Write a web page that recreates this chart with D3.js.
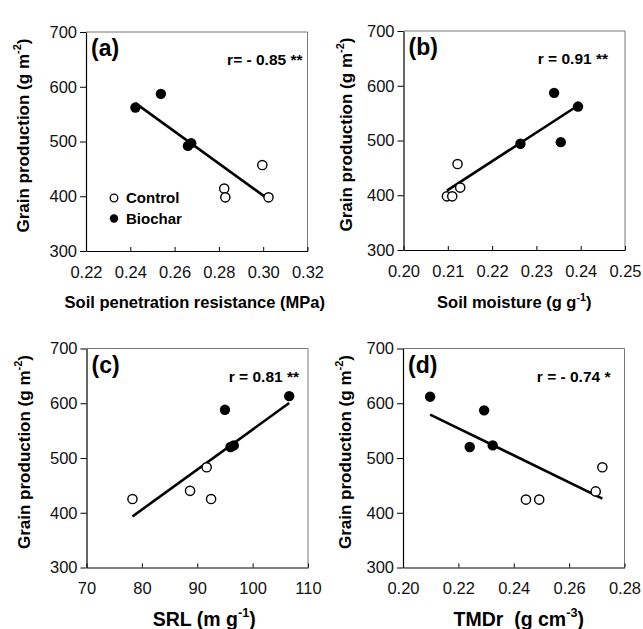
<!DOCTYPE html>
<html>
<head>
<meta charset="utf-8">
<script src="https://cdn.jsdelivr.net/npm/d3@7"></script>
<style>
  html, body { margin: 0; padding: 0; background: #fff; }
  svg { display: block; font-family: "Liberation Sans", Arial, sans-serif; }
</style>
</head>
<body>
<svg id="chart" width="643" height="629"></svg>
<script>
// ---------------- data ----------------
const panelLabels = ["(a)", "(b)", "(c)", "(d)"];
const rLabels = ["r= - 0.85 **", "r = 0.91 **", "r = 0.81 **", "r = - 0.74 *"];
const yTicks = [300, 400, 500, 600, 700];

// (a) soil penetration resistance (MPa)
const aXTicks = [0.22, 0.24, 0.26, 0.28, 0.30, 0.32];
const aControlX = [0.2996, 0.2824, 0.2829, 0.3024];
const aControlY = [457, 414, 398, 398];
const aBiocharX = [0.2423, 0.2538, 0.2660, 0.2675];
const aBiocharY = [562, 587, 492, 497];

// (b) soil moisture (g g-1)
const bXTicks = [0.20, 0.21, 0.22, 0.23, 0.24, 0.25];
const bControlX = [0.2122, 0.2128, 0.2098, 0.2110];
const bControlY = [457, 414, 398, 398];
const bBiocharX = [0.2340, 0.2394, 0.2264, 0.2355];
const bBiocharY = [587, 562, 494, 497];

// (c) SRL (m g-1)
const cXTicks = [70, 80, 90, 100, 110];
const cControlX = [78.3, 88.7, 91.7, 92.5];
const cControlY = [425, 440, 483, 425];
const cBiocharX = [95.0, 96.0, 96.6, 106.6];
const cBiocharY = [588, 520, 523, 613];

// (d) TMDr (g cm-3)
const dXTicks = [0.20, 0.22, 0.24, 0.26, 0.28];
const dControlX = [0.2444, 0.2492, 0.2696, 0.2720];
const dControlY = [424, 424, 439, 483];
const dBiocharX = [0.2098, 0.2293, 0.2241, 0.2324];
const dBiocharY = [612, 587, 520, 523];

const legendLabels = ["Control", "Biochar"];

// ---------------- layout ----------------
const svg = d3.select("#chart");
const W = 221.5, H = 219;

const panels = [
  { left: 86, top: 32, xTicks: aXTicks, fmt: ".2f", cx: aControlX, cy: aControlY, bx: aBiocharX, by: aBiocharY,
    xTitle: [["Soil penetration resistance (MPa)"]], xTitleSize: 16.5, xTitleY: 308, xTitleDx: -2, yTitleOff: 57, rRight: 5, legend: true },
  { left: 403.5, top: 31, xTicks: bXTicks, fmt: ".2f", cx: bControlX, cy: bControlY, bx: bBiocharX, by: bBiocharY,
    xTitle: [["Soil moisture (g g"], ["-1", true], [")"]], xTitleSize: 16.5, xTitleY: 308, xTitleDx: 0, yTitleOff: 52, rRight: 17 },
  { left: 86.5, top: 348.5, xTicks: cXTicks, fmt: "d", cx: cControlX, cy: cControlY, bx: cBiocharX, by: cBiocharY,
    xTitle: [["SRL (m g"], ["-1", true], [")"]], xTitleSize: 19.5, xTitleY: 626, xTitleDx: 7, yTitleOff: 57, rRight: 9 },
  { left: 403, top: 348.5, xTicks: dXTicks, fmt: ".2f", cx: dControlX, cy: dControlY, bx: dBiocharX, by: dBiocharY,
    xTitle: [["TMDr  (g cm"], ["-3", true], [")"]], xTitleSize: 19.5, xTitleY: 626, xTitleDx: 5, yTitleOff: 52, rRight: 14 }
];

function richText(sel, parts, size) {
  parts.forEach((p, i) => {
    const t = sel.append("tspan").text(p[0]).attr("xml:space", "preserve").style("white-space", "pre");
    if (p[1]) {
      t.attr("font-size", size * 0.65).attr("dy", -size * 0.45);
    } else if (i > 0 && parts[i - 1][1]) {
      t.attr("dy", size * 0.45);
    }
  });
}

function linreg(xs, ys) {
  const n = xs.length;
  const mx = d3.mean(xs), my = d3.mean(ys);
  let sxy = 0, sxx = 0;
  for (let i = 0; i < n; i++) { sxy += (xs[i] - mx) * (ys[i] - my); sxx += (xs[i] - mx) ** 2; }
  const b = sxy / sxx;
  return x => my + b * (x - mx);
}

panels.forEach((p, i) => {
  const g = svg.append("g").attr("transform", `translate(${p.left},${p.top})`);
  const x = d3.scaleLinear().domain(d3.extent(p.xTicks)).range([0, W]);
  const y = d3.scaleLinear().domain(d3.extent(yTicks)).range([H, 0]);

  // frame (top / right)
  g.append("line").attr("x1", 0).attr("x2", W).attr("y1", 0).attr("y2", 0)
    .attr("stroke", "#777").attr("stroke-width", 1);
  g.append("line").attr("x1", W).attr("x2", W).attr("y1", 0).attr("y2", H)
    .attr("stroke", "#777").attr("stroke-width", 1);

  // axes
  const xa = g.append("g").attr("transform", `translate(0,${H})`)
    .call(d3.axisBottom(x).tickValues(p.xTicks).tickFormat(d3.format(p.fmt))
      .tickSizeInner(-4).tickSizeOuter(0).tickPadding(15));
  const ya = g.append("g")
    .call(d3.axisLeft(y).tickValues(yTicks).tickFormat(d3.format("d"))
      .tickSizeInner(6).tickSizeOuter(0).tickPadding(3));
  [xa, ya].forEach(a => {
    a.select(".domain").attr("stroke", "#000").attr("stroke-width", 1.2);
    a.selectAll(".tick line").attr("stroke", "#000").attr("stroke-width", 1);
    a.selectAll(".tick text").attr("font-size", 16.5).attr("font-family", "Liberation Sans, Arial, sans-serif").attr("fill", "#111");
  });

  // regression line
  const xs = p.cx.concat(p.bx), ys = p.cy.concat(p.by);
  const f = linreg(xs, ys);
  const [x0, x1] = d3.extent(xs);
  g.append("line")
    .attr("x1", x(x0)).attr("y1", y(f(x0)))
    .attr("x2", x(x1)).attr("y2", y(f(x1)))
    .attr("stroke", "#000").attr("stroke-width", 2.6);

  // points
  g.selectAll(".bio").data(d3.zip(p.bx, p.by)).join("circle")
    .attr("cx", d => x(d[0])).attr("cy", d => y(d[1])).attr("r", 5.2).attr("fill", "#000");
  g.selectAll(".ctl").data(d3.zip(p.cx, p.cy)).join("circle")
    .attr("cx", d => x(d[0])).attr("cy", d => y(d[1])).attr("r", 4.6)
    .attr("fill", "#fff").attr("stroke", "#000").attr("stroke-width", 1.4);

  // panel label
  g.append("text").attr("x", 5).attr("y", 24).attr("font-size", 23).attr("font-weight", "bold")
    .text(panelLabels[i]);
  // r label
  g.append("text").attr("x", W - p.rRight).attr("y", 33).attr("text-anchor", "end")
    .attr("font-size", 15.5).attr("font-weight", "bold").attr("xml:space", "preserve")
    .text(rLabels[i]);

  // x title
  const xt = g.append("text").attr("x", W / 2 + p.xTitleDx).attr("y", p.xTitleY - p.top).attr("text-anchor", "middle")
    .attr("font-size", p.xTitleSize).attr("font-weight", "bold");
  richText(xt, p.xTitle, p.xTitleSize);

  // y title
  const yt = g.append("text").attr("transform", `translate(${-p.yTitleOff},${H / 2 - 6}) rotate(-90)`)
    .attr("text-anchor", "middle").attr("font-size", 17).attr("font-weight", "bold");
  richText(yt, [["Grain production (g m"], ["-2", true], [")"]], 17);

  // legend
  if (p.legend) {
    const lg = g.append("g").attr("transform", "translate(28,166)");
    lg.append("circle").attr("cx", 0).attr("cy", 0).attr("r", 3.8)
      .attr("fill", "#fff").attr("stroke", "#000").attr("stroke-width", 1.3);
    lg.append("circle").attr("cx", 0).attr("cy", 20.5).attr("r", 4.2).attr("fill", "#000");
    lg.selectAll("text").data(legendLabels).join("text")
      .attr("x", 12).attr("y", (d, k) => 5 + k * 20.5)
      .attr("font-size", 15).attr("font-weight", "bold").text(d => d);
  }
});
</script>
</body>
</html>
